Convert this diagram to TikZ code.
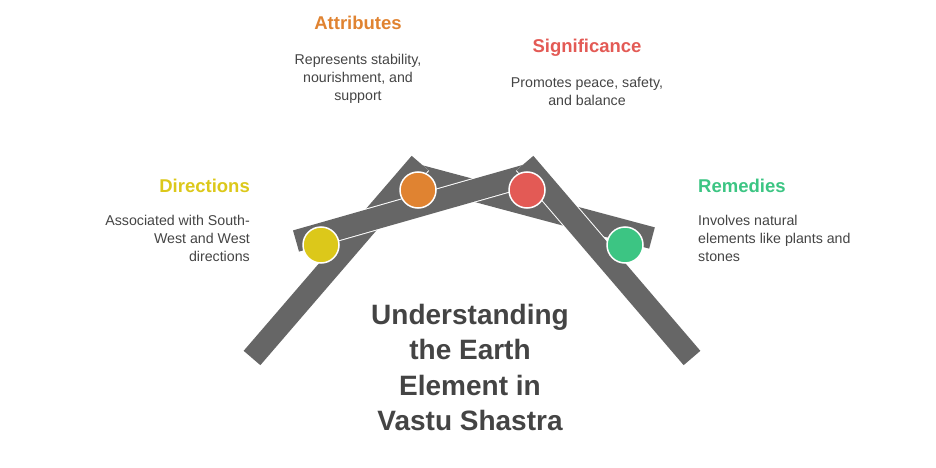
\documentclass[tikz,border=0pt]{standalone}
\usepackage{fontspec}
\setmainfont{Liberation Sans}
\usetikzlibrary{positioning}
\definecolor{bargray}{HTML}{666666}
\definecolor{txtgray}{HTML}{444444}
\definecolor{cdir}{HTML}{DCC81A}
\definecolor{catt}{HTML}{E08331}
\definecolor{csig}{HTML}{E35A55}
\definecolor{crem}{HTML}{3CC583}
\tikzset{
  bar/.style={white, line width=1pt, double=bargray, double distance=22pt},
  dot/.style={circle, draw=white, line width=1.5pt, minimum size=36pt, inner sep=0pt},
  head/.style={font=\fontsize{18.5}{21}\selectfont\bfseries, inner sep=0pt},
  body/.style={font=\fontsize{14.2}{18}\selectfont, text=txtgray, inner sep=0pt},
  title/.style={font=\fontsize{28}{35.5}\selectfont\bfseries, text=txtgray, align=center, inner sep=0pt}
}
\begin{document}
\begin{tikzpicture}[x=1pt, y=-1pt]
\useasboundingbox (0,0) rectangle (936,468);
% bars
\coordinate (a1) at (252,358); \coordinate (a2) at (420,163);
\coordinate (b1) at (525,163); \coordinate (b2) at (692,358);
\coordinate (c1) at (296,241); \coordinate (c2) at (538,172);
\coordinate (d1) at (405,172); \coordinate (d2) at (652,238);
\draw[bar] (d1) -- (d2);
\draw[bar] (a1) -- (a2);
\draw[bar] (c1) -- (c2);
\draw[bar] (b1) -- (b2);
% dots
\node (ydot) [dot, fill=cdir] at (321,245) {};
\node (odot) [dot, fill=catt] at (418,190) {};
\node (rdot) [dot, fill=csig] at (527,190) {};
\node (gdot) [dot, fill=crem] at (625,245) {};
% labels
\node (dirh) [head, text=cdir, anchor=east] at (250,186) {Directions};
\node (dirb) [body, align=right, anchor=north east] at (250,215) {Associated with South-\\West and West\\directions};
\node (atth) [head, text=catt] at (358,23) {Attributes};
\node (attb) [body, align=center, anchor=north] at (358,54) {Represents stability,\\nourishment, and\\support};
\node (sigh) [head, text=csig] at (587,48) {Significance};
\node (sigb) [body, align=center, anchor=north] at (587,77) {Promotes peace, safety,\\and balance};
\node (remh) [head, text=crem, anchor=west] at (698,186) {Remedies};
\node (remb) [body, align=left, anchor=north west] at (698,215) {Involves natural\\elements like plants and\\stones};
\node (ttl) [title, anchor=north] at (470,304) {Understanding\\the Earth\\Element in\\Vastu Shastra};
\end{tikzpicture}
\end{document}
